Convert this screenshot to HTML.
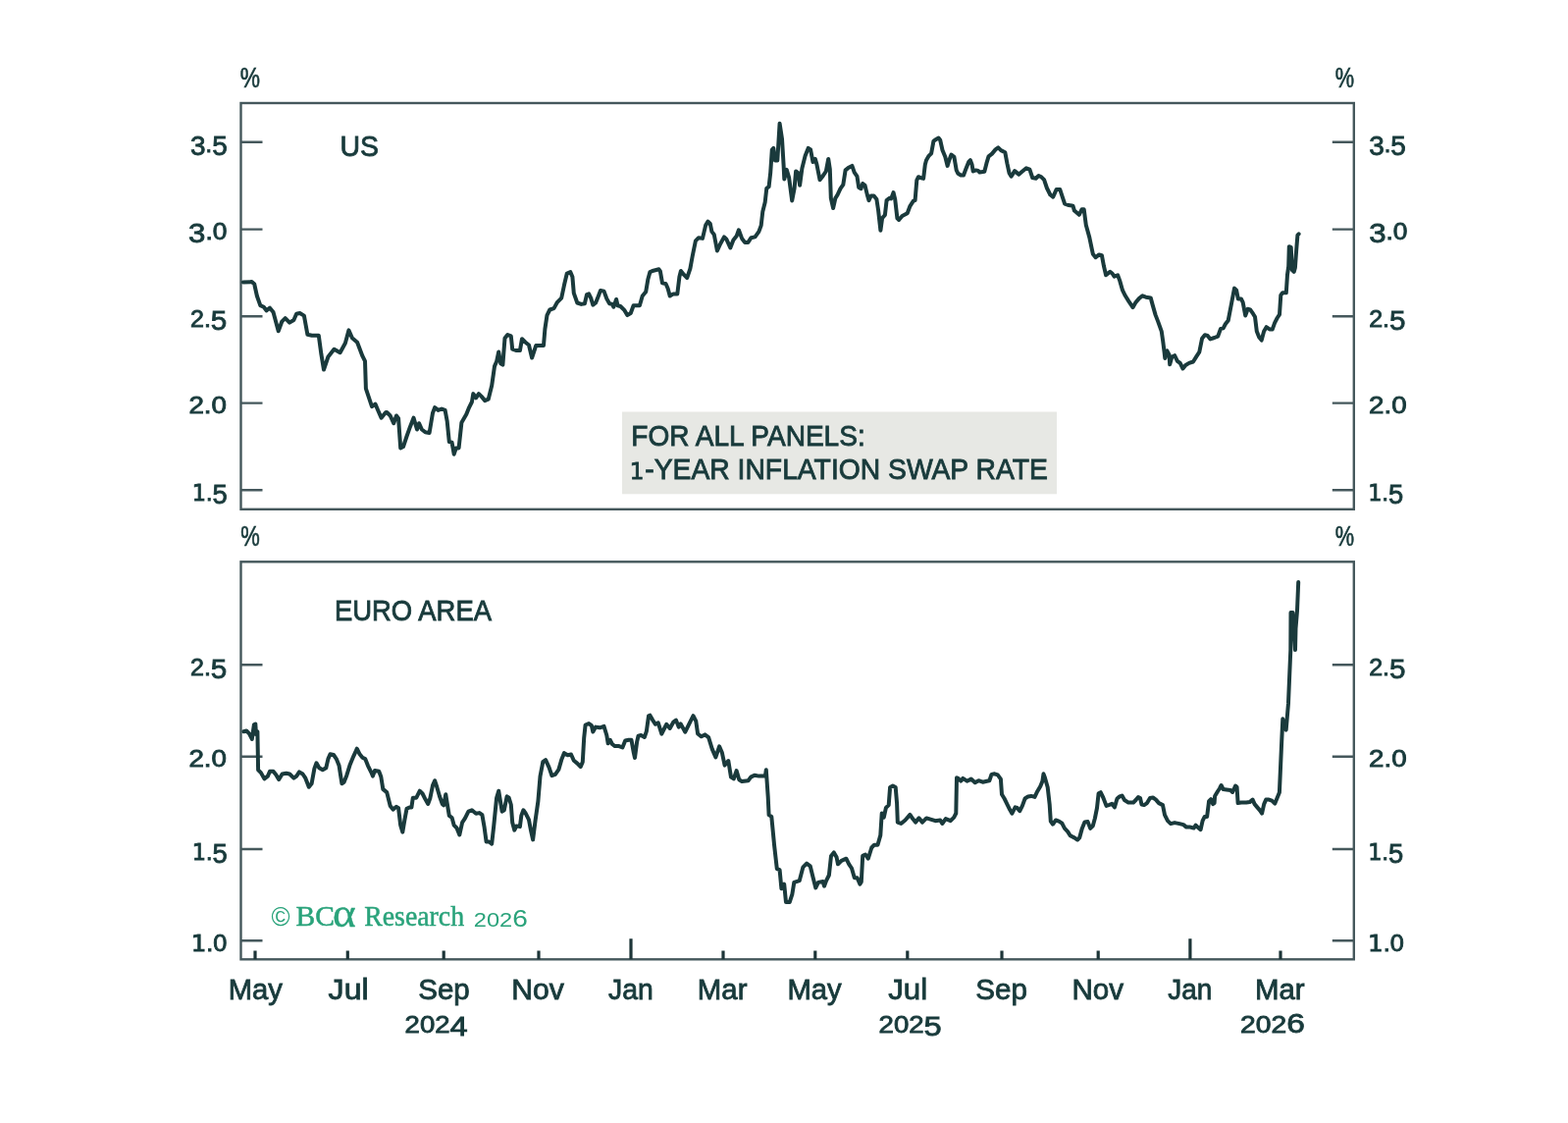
<!DOCTYPE html>
<html><head><meta charset="utf-8"><title>1-Year Inflation Swap Rate</title>
<style>html,body{margin:0;padding:0;background:#fff;}body{width:1598px;height:1144px;overflow:hidden;}svg{display:block;}</style>
</head><body>
<svg width="1598" height="1144" viewBox="0 0 1598 1144"><rect width="1598" height="1144" fill="#ffffff"/><rect x="634" y="419.5" width="443" height="83.8" fill="#e7e8e4"/><rect x="245.5" y="105.0" width="1134.3" height="413.8" fill="none" stroke="#45585c" stroke-width="2.4"/><rect x="245.5" y="572.3" width="1134.3" height="405.0" fill="none" stroke="#45585c" stroke-width="2.4"/><path d="M245.5 144.7H267.5M1357.8 144.7H1379.8M245.5 233.6H267.5M1357.8 233.6H1379.8M245.5 322.2H267.5M1357.8 322.2H1379.8M245.5 410.6H267.5M1357.8 410.6H1379.8M245.5 499.2H267.5M1357.8 499.2H1379.8M245.5 677.3H267.5M1357.8 677.3H1379.8M245.5 770.7H267.5M1357.8 770.7H1379.8M245.5 865.0H267.5M1357.8 865.0H1379.8M245.5 958.3H267.5M1357.8 958.3H1379.8" stroke="#45585c" stroke-width="2.4" fill="none"/><path d="M260 977.3V968.5M354.3 977.3V968.5M452.2 977.3V968.5M549 977.3V968.5M643 977.3V956.3M737 977.3V968.5M830.8 977.3V968.5M924.8 977.3V968.5M1021 977.3V968.5M1119.2 977.3V968.5M1212.9 977.3V956.3M1305 977.3V968.5" stroke="#1d3538" stroke-width="3.2" fill="none"/><polyline points="247.9,287.5 256.6,287.1 259.2,289.2 261.9,301.5 265.3,311.1 268.8,312.8 271.5,316.3 275.0,313.7 278.5,318.1 283.7,337.3 287.2,327.7 290.7,324.2 295.1,328.6 299.4,326.0 302.1,319.8 305.6,319.0 309.9,321.6 313.4,340.8 317.8,341.7 324.8,341.7 327.4,360.9 330.0,376.6 334.4,363.5 340.5,355.7 346.6,359.2 351.9,349.5 355.4,336.4 358.9,344.3 364.1,348.7 369.4,362.7 372.0,367.9 372.9,395.9 376.4,406.4 379.0,414.2 382.5,411.6 385.1,417.7 388.6,425.6 393.0,420.3 394.2,420.0 397.7,423.5 401.2,431.2 404.0,423.5 406.1,426.3 408.2,456.4 411.0,455.0 414.5,444.5 418.0,434.7 421.5,425.6 425.0,437.5 427.1,431.2 429.9,437.5 433.4,440.3 437.6,441.0 441.0,420.7 443.1,415.1 446.6,417.9 450.1,416.5 453.6,417.9 455.7,429.1 457.8,450.1 460.6,450.8 462.7,462.7 464.8,456.4 467.6,456.4 470.4,430.5 475.3,422.1 478.1,415.1 480.9,409.5 482.3,401.1 485.1,405.3 487.9,401.1 490.7,403.9 494.2,408.1 497.7,406.7 501.2,392.7 504.0,373.1 506.1,368.3 508.2,358.5 510.3,370.3 512.4,371.7 514.5,344.5 517.3,341.0 520.8,342.4 522.2,355.7 526.4,357.1 529.9,357.1 532.0,345.2 535.5,348.7 539.0,351.5 542.1,364.5 546.3,351.9 550.5,351.9 554.0,351.9 555.4,335.1 557.5,321.1 560.3,315.5 564.5,314.1 568.0,307.8 572.2,303.6 575.0,290.3 577.8,278.5 581.3,277.1 583.4,282.0 584.8,298.7 588.3,308.5 592.4,309.9 595.9,309.2 598.0,300.1 600.1,299.4 602.2,303.6 604.3,310.6 607.1,308.5 609.9,301.5 612.0,295.9 615.5,296.6 618.3,304.3 621.1,309.2 623.9,309.9 625.3,312.7 628.1,305.0 629.5,311.3 632.3,312.0 636.5,316.2 639.3,321.1 642.8,319.0 645.6,311.3 649.1,311.3 651.9,311.3 654.7,301.5 658.2,297.3 660.3,284.8 662.4,277.1 665.9,275.7 671.5,274.3 672.9,276.4 675.0,288.3 678.5,289.0 680.6,293.8 682.7,301.5 686.2,299.4 690.3,299.4 692.4,282.0 693.9,276.0 697.1,279.9 700.2,283.1 703.4,273.6 705.7,261.0 708.9,245.3 712.0,242.2 716.0,242.9 719.1,229.6 721.5,225.6 723.8,228.0 725.4,235.9 727.8,239.0 730.9,255.5 734.1,248.5 738.0,241.4 740.3,243.7 744.3,252.4 747.4,244.5 750.6,240.6 752.9,234.3 756.1,242.9 759.2,246.9 762.4,246.9 765.5,242.2 769.5,241.4 773.4,235.9 775.7,229.6 777.3,215.4 779.7,206.0 781.3,191.8 783.6,190.2 785.2,176.1 786.8,152.5 788.3,150.9 789.9,163.5 792.3,163.5 794.6,125.7 797.0,141.5 798.6,168.2 799.3,182.4 801.7,172.9 804.1,180.8 807.2,204.4 809.6,191.8 811.1,174.5 813.5,176.1 815.1,188.7 817.4,171.4 820.6,158.8 823.7,150.9 826.1,152.5 828.5,165.1 830.8,161.9 832.4,167.4 835.5,183.2 838.7,179.2 841.8,174.5 844.2,161.9 845.8,172.3 846.8,201.8 849.1,212.0 851.4,201.8 853.6,198.4 856.5,192.2 859.3,188.2 861.6,173.4 864.4,171.1 868.4,168.9 870.7,175.7 873.5,179.7 875.2,191.0 877.5,192.2 879.2,187.0 881.5,188.8 883.8,198.4 885.5,204.1 887.7,199.5 890.6,199.5 893.4,203.0 895.1,214.3 897.4,234.8 899.1,222.3 901.9,218.9 903.6,204.1 906.5,201.8 908.2,202.4 910.5,196.1 912.2,203.0 914.4,222.3 916.1,224.0 919.5,220.0 924.7,217.2 927.5,209.8 930.9,204.7 932.6,204.1 934.3,183.6 936.0,180.2 938.9,181.4 941.1,181.9 942.8,167.7 944.0,163.2 946.3,159.2 949.1,156.4 951.4,143.9 953.6,142.2 956.5,140.5 958.2,142.7 960.5,153.0 963.3,159.8 965.6,168.9 967.3,163.2 969.5,157.5 972.4,159.8 974.7,173.4 976.4,176.8 979.2,178.5 982.0,178.5 984.3,172.3 987.2,164.9 988.9,163.2 990.6,167.7 991.7,174.5 994.5,173.4 996.8,173.9 998.4,175.5 1003.3,174.8 1005.4,166.4 1007.5,159.4 1011.0,156.6 1014.5,152.4 1017.3,150.3 1020.1,153.1 1024.3,155.2 1026.4,166.4 1028.5,176.2 1030.6,179.7 1034.1,174.1 1038.3,177.6 1041.7,174.8 1045.9,171.3 1049.4,172.7 1052.2,181.0 1055.7,181.7 1058.5,179.0 1061.3,180.3 1064.1,183.1 1066.9,191.5 1070.4,198.5 1073.2,200.6 1076.7,192.9 1080.2,192.9 1083.0,201.3 1085.1,207.6 1089.3,209.0 1093.5,209.7 1094.9,214.6 1099.8,218.8 1102.6,213.2 1104.7,213.2 1106.8,229.3 1110.3,241.9 1113.8,258.7 1116.6,262.2 1120.1,259.4 1122.9,260.1 1125.0,271.3 1127.1,280.3 1131.3,276.9 1133.5,278.5 1135.6,281.7 1139.1,280.3 1141.2,285.9 1144.0,295.7 1146.8,301.3 1150.3,306.9 1154.5,313.2 1157.3,308.3 1160.8,304.1 1164.3,301.3 1167.8,302.7 1172.7,303.4 1174.8,311.1 1177.6,320.9 1180.3,327.9 1183.8,337.7 1185.2,347.5 1186.6,358.7 1187.3,365.0 1189.4,357.3 1191.5,361.5 1192.2,371.3 1194.3,363.6 1197.1,362.2 1199.9,367.8 1202.7,369.9 1205.5,375.5 1208.3,372.0 1211.8,369.9 1216.0,368.5 1219.5,362.9 1222.3,358.7 1225.1,344.7 1227.9,341.2 1230.7,341.9 1233.5,345.4 1237.7,344.0 1241.2,342.6 1244.0,334.9 1246.8,334.2 1248.9,330.0 1251.7,326.5 1255.2,308.3 1258.0,293.6 1260.1,295.7 1261.8,304.4 1264.9,304.4 1266.7,308.1 1269.2,321.5 1271.6,314.8 1274.1,315.4 1277.1,319.7 1279.0,322.8 1280.8,337.4 1283.2,343.5 1285.7,346.6 1288.1,337.4 1290.6,333.2 1294.3,335.6 1296.7,335.6 1299.1,328.9 1301.6,324.0 1304.0,320.3 1305.3,300.7 1307.1,298.3 1310.8,298.3 1312.0,279.9 1313.2,271.4 1313.8,251.2 1315.7,251.8 1316.9,275.0 1318.7,276.9 1319.9,272.6 1321.2,254.3 1322.4,239.6 1323.6,238.3" fill="none" stroke="#1a3a3c" stroke-width="4.0" stroke-linejoin="round" stroke-linecap="round"/><polyline points="248.4,745.2 251.2,744.5 254.0,747.3 256.8,752.9 258.9,738.2 260.3,737.5 261.0,748.0 262.4,745.2 263.1,784.3 265.9,787.1 269.4,793.4 272.9,790.6 275.0,785.7 278.5,785.7 281.3,789.2 284.1,794.1 287.6,788.5 291.7,787.8 295.2,788.5 299.4,792.7 302.2,790.6 305.0,786.4 308.5,788.5 311.3,792.7 314.8,801.8 317.6,798.3 320.4,782.9 322.5,777.3 325.3,782.2 328.8,784.3 332.3,782.2 334.4,773.1 336.5,768.3 340.0,769.0 342.8,773.1 345.6,780.1 348.4,798.3 350.5,796.9 353.3,789.9 356.8,778.7 360.3,770.3 363.8,762.7 366.6,768.3 369.4,771.7 372.2,773.1 375.0,780.1 378.5,787.1 379.9,790.6 382.0,785.0 386.2,785.7 388.3,791.3 390.3,803.9 394.2,807.1 397.7,821.1 400.5,824.6 404.0,821.8 406.1,823.2 408.2,840.7 410.3,847.7 412.4,835.1 414.5,823.9 417.3,822.5 419.4,822.5 420.8,812.7 424.3,812.7 427.8,805.7 430.6,808.5 433.4,814.1 436.2,819.0 438.3,813.4 441.0,800.1 443.1,795.2 445.2,801.5 448.0,811.3 450.8,819.0 452.2,820.4 454.3,809.2 455.7,818.3 457.8,830.9 460.6,833.0 462.7,840.7 465.5,843.5 468.3,850.5 471.1,837.9 473.9,833.7 477.4,826.7 480.9,825.3 485.1,828.8 488.6,828.1 491.4,830.2 493.5,842.1 495.6,857.5 498.4,857.5 501.2,859.6 503.3,840.7 506.1,812.7 508.2,805.7 510.3,818.3 511.7,826.7 513.8,825.3 516.6,811.3 518.7,812.7 520.8,819.7 522.2,837.9 524.3,845.6 526.4,841.4 529.9,842.1 531.3,830.9 533.4,825.3 535.5,828.1 539.0,835.1 541.1,846.3 543.1,855.4 545.6,835.7 548.4,816.1 550.5,790.9 553.3,776.2 556.1,774.1 559.6,781.8 562.4,790.2 565.9,788.8 569.4,783.9 572.2,774.1 575.0,767.1 578.5,769.2 582.0,768.5 584.8,774.8 588.3,777.6 591.7,781.1 593.8,776.2 595.2,751.7 596.6,738.5 600.1,737.1 602.9,739.2 604.3,745.5 607.1,740.6 611.3,741.3 615.5,739.9 618.3,749.0 619.7,757.3 621.8,753.8 623.9,758.0 626.7,760.1 630.9,760.1 634.4,761.5 637.2,754.5 640.7,753.8 643.5,753.8 645.6,765.7 647.0,772.0 649.1,755.9 650.5,749.7 653.3,749.0 656.8,751.0 658.9,744.8 661.0,729.4 662.4,728.7 665.2,733.6 668.0,737.8 670.8,736.4 674.3,747.6 677.1,742.0 679.2,737.8 682.7,742.0 686.2,735.7 689.0,733.6 691.7,740.6 693.7,737.4 698.3,745.7 701.9,738.3 706.5,729.2 709.3,734.7 711.1,747.5 714.8,750.3 718.4,748.4 722.1,751.2 725.8,763.1 729.4,771.4 733.1,760.4 735.9,766.8 738.6,779.6 742.3,775.0 745.0,791.6 747.8,793.4 750.6,785.1 753.3,794.3 756.1,796.1 762.5,795.2 765.2,791.6 768.9,789.7 773.5,790.6 779.9,790.6 780.8,784.2 782.7,811.7 783.6,830.1 786.3,831.9 789.1,861.3 791.8,885.1 794.6,886.1 796.4,905.3 799.2,900.7 801.0,919.1 804.7,919.1 807.4,910.8 809.3,898.9 814.8,897.1 818.4,883.3 822.1,879.6 825.8,882.4 828.5,893.4 831.3,904.4 834.0,898.9 838.6,898.0 840.0,902.7 842.1,897.1 844.9,891.5 847.0,871.9 849.8,868.4 852.6,873.3 854.0,880.3 857.5,876.8 862.4,874.7 865.2,880.3 868.0,884.5 870.8,894.3 873.6,894.3 876.4,900.6 877.8,898.5 879.2,871.9 882.0,870.5 884.8,874.7 888.3,863.5 891.0,860.7 894.5,860.7 897.3,850.9 898.7,828.5 900.8,832.7 902.9,822.9 905.7,820.1 907.1,802.0 909.9,800.6 912.7,802.0 914.1,818.7 914.8,837.6 918.3,839.0 922.5,835.5 927.4,829.9 930.2,834.1 933.0,837.6 936.5,833.4 940.0,837.6 944.2,833.4 949.1,834.8 953.3,836.2 958.2,835.5 960.3,839.0 963.8,834.1 968.7,836.2 972.2,832.7 974.3,828.5 975.0,792.2 976.4,792.9 979.2,795.7 981.3,792.9 985.5,795.7 989.7,793.6 993.7,797.2 997.3,795.2 1001.5,796.7 1005.7,795.7 1008.4,795.2 1010.5,788.9 1013.6,788.3 1016.8,789.4 1019.9,793.6 1021.0,809.3 1023.6,813.5 1026.7,819.8 1029.3,825.1 1031.4,828.7 1034.6,822.4 1036.7,823.0 1039.3,826.1 1041.9,820.9 1044.6,813.5 1047.7,811.4 1050.9,810.9 1054.5,811.9 1057.2,806.2 1060.3,800.9 1062.4,795.7 1063.5,788.3 1065.0,792.5 1067.7,802.0 1069.7,819.8 1070.8,836.6 1072.9,839.7 1076.0,835.5 1079.2,836.6 1082.3,838.7 1085.0,843.9 1088.1,847.1 1090.7,851.3 1094.9,853.4 1098.1,855.5 1100.2,853.4 1102.8,843.9 1105.4,837.6 1108.6,837.1 1111.2,843.9 1113.8,841.3 1115.9,833.5 1118.0,823.0 1119.6,808.3 1121.7,807.2 1124.3,812.5 1127.5,820.9 1130.6,819.8 1133.2,818.8 1135.9,822.4 1138.5,813.5 1141.1,811.4 1143.5,810.5 1146.0,815.0 1150.0,817.6 1155.0,817.6 1157.5,815.0 1160.0,812.0 1162.0,813.0 1163.5,819.6 1166.0,820.1 1169.0,818.1 1172.0,813.0 1175.0,812.5 1178.0,814.6 1181.0,818.1 1185.0,820.1 1187.0,830.1 1190.0,836.1 1193.1,839.1 1197.1,838.1 1202.1,839.1 1206.1,840.1 1209.1,842.6 1213.1,842.6 1216.6,843.6 1218.6,840.6 1221.1,843.1 1223.6,845.1 1225.6,836.1 1227.6,832.1 1230.1,832.1 1232.1,816.1 1234.1,814.1 1236.1,819.1 1237.6,818.1 1238.1,811.1 1241.1,806.0 1243.1,803.0 1244.6,800.0 1246.6,804.0 1250.1,804.5 1254.1,805.0 1256.1,807.0 1259.1,800.5 1260.6,802.0 1261.6,818.1 1265.1,817.6 1270.1,817.6 1273.6,817.1 1276.6,814.6 1278.6,819.1 1281.1,822.1 1284.1,825.6 1286.1,828.6 1288.2,819.1 1290.2,814.6 1293.2,814.6 1296.2,815.6 1299.3,818.6 1303.9,807.3 1306.1,757.3 1307.3,732.3 1310.7,743.6 1313.0,716.4 1315.3,662.0 1315.5,624.0 1317.5,624.0 1320.0,662.0 1320.5,640.0 1322.0,622.0 1323.2,593.0" fill="none" stroke="#1a3a3c" stroke-width="4.0" stroke-linejoin="round" stroke-linecap="round"/><text x="194.09" y="155.20" font-family="'Liberation Sans', Arial, sans-serif" fill="#183a3b" stroke="#183a3b" stroke-width="0.85" textLength="37.63" lengthAdjust="spacingAndGlyphs"><tspan font-size="27.60" dy="3.01">3</tspan><tspan font-size="23.30" dy="-3.01">.</tspan><tspan font-size="27.60" dy="3.01">5</tspan></text><text x="1395.29" y="155.20" font-family="'Liberation Sans', Arial, sans-serif" fill="#183a3b" stroke="#183a3b" stroke-width="0.85" textLength="37.63" lengthAdjust="spacingAndGlyphs"><tspan font-size="27.60" dy="3.01">3</tspan><tspan font-size="23.30" dy="-3.01">.</tspan><tspan font-size="27.60" dy="3.01">5</tspan></text><text x="192.07" y="244.10" font-family="'Liberation Sans', Arial, sans-serif" fill="#183a3b" stroke="#183a3b" stroke-width="0.85" textLength="39.33" lengthAdjust="spacingAndGlyphs"><tspan font-size="27.60" dy="3.01">3</tspan><tspan font-size="23.30" dy="-3.01">.0</tspan></text><text x="1395.17" y="244.10" font-family="'Liberation Sans', Arial, sans-serif" fill="#183a3b" stroke="#183a3b" stroke-width="0.85" textLength="39.33" lengthAdjust="spacingAndGlyphs"><tspan font-size="27.60" dy="3.01">3</tspan><tspan font-size="23.30" dy="-3.01">.0</tspan></text><text x="194.03" y="332.70" font-family="'Liberation Sans', Arial, sans-serif" fill="#183a3b" stroke="#183a3b" stroke-width="0.85" textLength="37.33" lengthAdjust="spacingAndGlyphs"><tspan font-size="23.30">2.</tspan><tspan font-size="27.60" dy="3.01">5</tspan></text><text x="1395.23" y="332.70" font-family="'Liberation Sans', Arial, sans-serif" fill="#183a3b" stroke="#183a3b" stroke-width="0.85" textLength="37.33" lengthAdjust="spacingAndGlyphs"><tspan font-size="23.30">2.</tspan><tspan font-size="27.60" dy="3.01">5</tspan></text><text x="192.41" y="421.10" font-family="'Liberation Sans', Arial, sans-serif" fill="#183a3b" stroke="#183a3b" stroke-width="0.85" textLength="38.56" lengthAdjust="spacingAndGlyphs"><tspan font-size="23.30">2.0</tspan></text><text x="1395.11" y="421.10" font-family="'Liberation Sans', Arial, sans-serif" fill="#183a3b" stroke="#183a3b" stroke-width="0.85" textLength="38.56" lengthAdjust="spacingAndGlyphs"><tspan font-size="23.30">2.0</tspan></text><text x="195.82" y="509.70" font-family="'Liberation Sans', Arial, sans-serif" fill="#183a3b" stroke="#183a3b" stroke-width="0.85" textLength="35.89" lengthAdjust="spacingAndGlyphs"><tspan font-size="22.60" font-family="'DejaVu Sans', sans-serif">1</tspan><tspan font-size="23.30">.</tspan><tspan font-size="27.60" dy="3.01">5</tspan></text><text x="1394.32" y="509.70" font-family="'Liberation Sans', Arial, sans-serif" fill="#183a3b" stroke="#183a3b" stroke-width="0.85" textLength="35.89" lengthAdjust="spacingAndGlyphs"><tspan font-size="22.60" font-family="'DejaVu Sans', sans-serif">1</tspan><tspan font-size="23.30">.</tspan><tspan font-size="27.60" dy="3.01">5</tspan></text><text x="194.03" y="687.80" font-family="'Liberation Sans', Arial, sans-serif" fill="#183a3b" stroke="#183a3b" stroke-width="0.85" textLength="37.33" lengthAdjust="spacingAndGlyphs"><tspan font-size="23.30">2.</tspan><tspan font-size="27.60" dy="3.01">5</tspan></text><text x="1395.23" y="687.80" font-family="'Liberation Sans', Arial, sans-serif" fill="#183a3b" stroke="#183a3b" stroke-width="0.85" textLength="37.33" lengthAdjust="spacingAndGlyphs"><tspan font-size="23.30">2.</tspan><tspan font-size="27.60" dy="3.01">5</tspan></text><text x="192.41" y="781.20" font-family="'Liberation Sans', Arial, sans-serif" fill="#183a3b" stroke="#183a3b" stroke-width="0.85" textLength="38.56" lengthAdjust="spacingAndGlyphs"><tspan font-size="23.30">2.0</tspan></text><text x="1395.11" y="781.20" font-family="'Liberation Sans', Arial, sans-serif" fill="#183a3b" stroke="#183a3b" stroke-width="0.85" textLength="38.56" lengthAdjust="spacingAndGlyphs"><tspan font-size="23.30">2.0</tspan></text><text x="195.82" y="875.50" font-family="'Liberation Sans', Arial, sans-serif" fill="#183a3b" stroke="#183a3b" stroke-width="0.85" textLength="35.89" lengthAdjust="spacingAndGlyphs"><tspan font-size="22.60" font-family="'DejaVu Sans', sans-serif">1</tspan><tspan font-size="23.30">.</tspan><tspan font-size="27.60" dy="3.01">5</tspan></text><text x="1394.32" y="875.50" font-family="'Liberation Sans', Arial, sans-serif" fill="#183a3b" stroke="#183a3b" stroke-width="0.85" textLength="35.89" lengthAdjust="spacingAndGlyphs"><tspan font-size="22.60" font-family="'DejaVu Sans', sans-serif">1</tspan><tspan font-size="23.30">.</tspan><tspan font-size="27.60" dy="3.01">5</tspan></text><text x="194.73" y="968.80" font-family="'Liberation Sans', Arial, sans-serif" fill="#183a3b" stroke="#183a3b" stroke-width="0.85" textLength="36.65" lengthAdjust="spacingAndGlyphs"><tspan font-size="22.60" font-family="'DejaVu Sans', sans-serif">1</tspan><tspan font-size="23.30">.0</tspan></text><text x="1394.13" y="968.80" font-family="'Liberation Sans', Arial, sans-serif" fill="#183a3b" stroke="#183a3b" stroke-width="0.85" textLength="36.65" lengthAdjust="spacingAndGlyphs"><tspan font-size="22.60" font-family="'DejaVu Sans', sans-serif">1</tspan><tspan font-size="23.30">.0</tspan></text><text x="244.83" y="89.20" font-family="'Liberation Sans', Arial, sans-serif" fill="#183a3b" stroke="#183a3b" stroke-width="0.7" textLength="20.25" lengthAdjust="spacingAndGlyphs"><tspan font-size="29.50">%</tspan></text><text x="1360.76" y="89.20" font-family="'Liberation Sans', Arial, sans-serif" fill="#183a3b" stroke="#183a3b" stroke-width="0.7" textLength="19.31" lengthAdjust="spacingAndGlyphs"><tspan font-size="29.50">%</tspan></text><text x="245.16" y="555.50" font-family="'Liberation Sans', Arial, sans-serif" fill="#183a3b" stroke="#183a3b" stroke-width="0.7" textLength="19.52" lengthAdjust="spacingAndGlyphs"><tspan font-size="29.50">%</tspan></text><text x="1360.76" y="555.50" font-family="'Liberation Sans', Arial, sans-serif" fill="#183a3b" stroke="#183a3b" stroke-width="0.7" textLength="19.31" lengthAdjust="spacingAndGlyphs"><tspan font-size="29.50">%</tspan></text><text x="346.55" y="158.50" font-family="'Liberation Sans', Arial, sans-serif" fill="#183a3b" stroke="#183a3b" stroke-width="0.85" textLength="39.48" lengthAdjust="spacingAndGlyphs"><tspan font-size="29.20">US</tspan></text><text x="340.92" y="631.50" font-family="'Liberation Sans', Arial, sans-serif" fill="#183a3b" stroke="#183a3b" stroke-width="0.85" textLength="160.07" lengthAdjust="spacingAndGlyphs"><tspan font-size="29.20">EURO AREA</tspan></text><text x="643.28" y="454.20" font-family="'Liberation Sans', Arial, sans-serif" fill="#183a3b" stroke="#183a3b" stroke-width="0.85" textLength="238.44" lengthAdjust="spacingAndGlyphs"><tspan font-size="29.20">FOR ALL PANELS:</tspan></text><text x="641.86" y="488.00" font-family="'Liberation Sans', Arial, sans-serif" fill="#183a3b" stroke="#183a3b" stroke-width="0.85" textLength="14.64" lengthAdjust="spacingAndGlyphs"><tspan font-size="22.60" font-family="'DejaVu Sans', sans-serif">1</tspan></text><text x="657.33" y="488.00" font-family="'Liberation Sans', Arial, sans-serif" fill="#183a3b" stroke="#183a3b" stroke-width="0.85" textLength="410.57" lengthAdjust="spacingAndGlyphs"><tspan font-size="29.20">-YEAR INFLATION SWAP RATE</tspan></text><text x="232.80" y="1018.30" font-family="'Liberation Sans', Arial, sans-serif" fill="#183a3b" stroke="#183a3b" stroke-width="0.85"><tspan font-size="29.20">May</tspan></text><text x="334.60" y="1018.30" font-family="'Liberation Sans', Arial, sans-serif" fill="#183a3b" stroke="#183a3b" stroke-width="0.85" textLength="41.04" lengthAdjust="spacingAndGlyphs"><tspan font-size="29.20">Jul</tspan></text><text x="426.19" y="1018.30" font-family="'Liberation Sans', Arial, sans-serif" fill="#183a3b" stroke="#183a3b" stroke-width="0.85" textLength="52.56" lengthAdjust="spacingAndGlyphs"><tspan font-size="29.20">Sep</tspan></text><text x="521.24" y="1018.30" font-family="'Liberation Sans', Arial, sans-serif" fill="#183a3b" stroke="#183a3b" stroke-width="0.85" textLength="53.57" lengthAdjust="spacingAndGlyphs"><tspan font-size="29.20">Nov</tspan></text><text x="620.00" y="1018.30" font-family="'Liberation Sans', Arial, sans-serif" fill="#183a3b" stroke="#183a3b" stroke-width="0.85" textLength="45.73" lengthAdjust="spacingAndGlyphs"><tspan font-size="29.20">Jan</tspan></text><text x="710.89" y="1018.30" font-family="'Liberation Sans', Arial, sans-serif" fill="#183a3b" stroke="#183a3b" stroke-width="0.85" textLength="50.60" lengthAdjust="spacingAndGlyphs"><tspan font-size="29.20">Mar</tspan></text><text x="802.50" y="1018.30" font-family="'Liberation Sans', Arial, sans-serif" fill="#183a3b" stroke="#183a3b" stroke-width="0.85"><tspan font-size="29.20">May</tspan></text><text x="905.20" y="1018.30" font-family="'Liberation Sans', Arial, sans-serif" fill="#183a3b" stroke="#183a3b" stroke-width="0.85" textLength="40.01" lengthAdjust="spacingAndGlyphs"><tspan font-size="29.20">Jul</tspan></text><text x="994.29" y="1018.30" font-family="'Liberation Sans', Arial, sans-serif" fill="#183a3b" stroke="#183a3b" stroke-width="0.85" textLength="52.66" lengthAdjust="spacingAndGlyphs"><tspan font-size="29.20">Sep</tspan></text><text x="1092.48" y="1018.30" font-family="'Liberation Sans', Arial, sans-serif" fill="#183a3b" stroke="#183a3b" stroke-width="0.85" textLength="52.53" lengthAdjust="spacingAndGlyphs"><tspan font-size="29.20">Nov</tspan></text><text x="1190.30" y="1018.30" font-family="'Liberation Sans', Arial, sans-serif" fill="#183a3b" stroke="#183a3b" stroke-width="0.85" textLength="45.12" lengthAdjust="spacingAndGlyphs"><tspan font-size="29.20">Jan</tspan></text><text x="1278.98" y="1018.30" font-family="'Liberation Sans', Arial, sans-serif" fill="#183a3b" stroke="#183a3b" stroke-width="0.85" textLength="50.70" lengthAdjust="spacingAndGlyphs"><tspan font-size="29.20">Mar</tspan></text><text x="412.62" y="1052.00" font-family="'Liberation Sans', Arial, sans-serif" fill="#183a3b" stroke="#183a3b" stroke-width="0.85" textLength="63.96" lengthAdjust="spacingAndGlyphs"><tspan font-size="23.30">202</tspan><tspan font-size="27.60" dy="3.01">4</tspan></text><text x="895.62" y="1052.00" font-family="'Liberation Sans', Arial, sans-serif" fill="#183a3b" stroke="#183a3b" stroke-width="0.85" textLength="64.16" lengthAdjust="spacingAndGlyphs"><tspan font-size="23.30">202</tspan><tspan font-size="27.60" dy="3.01">5</tspan></text><text x="1264.09" y="1052.10" font-family="'Liberation Sans', Arial, sans-serif" fill="#183a3b" stroke="#183a3b" stroke-width="0.85" textLength="65.70" lengthAdjust="spacingAndGlyphs"><tspan font-size="23.30">202</tspan><tspan font-size="27.60">6</tspan></text><text x="276.56" y="943.30" font-family="'Liberation Sans', Arial, sans-serif" fill="#2aa37b" textLength="19.09" lengthAdjust="spacingAndGlyphs"><tspan font-size="27.50">©</tspan></text><text x="301.50" y="943.10" font-family="'Liberation Serif', 'Times New Roman', serif" fill="#2aa37b" stroke="#2aa37b" stroke-width="0.5"><tspan font-size="29.50">BC</tspan></text><text x="338.90" y="943.50" font-family="'Liberation Serif', 'Times New Roman', serif" fill="#2aa37b" stroke="#2aa37b" stroke-width="0.4" textLength="23.66" lengthAdjust="spacingAndGlyphs"><tspan font-size="43.00">α</tspan></text><text x="371.26" y="943.30" font-family="'Liberation Serif', 'Times New Roman', serif" fill="#2aa37b" stroke="#2aa37b" stroke-width="0.5" textLength="101.85" lengthAdjust="spacingAndGlyphs"><tspan font-size="29.50">Research</tspan></text><text x="482.79" y="943.50" font-family="'Liberation Sans', Arial, sans-serif" fill="#2aa37b" textLength="55.07" lengthAdjust="spacingAndGlyphs"><tspan font-size="19.50">202</tspan><tspan font-size="23.20">6</tspan></text></svg>
</body></html>
